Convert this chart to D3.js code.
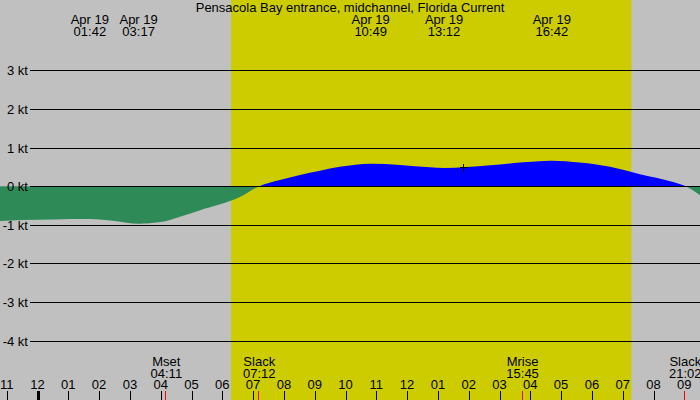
<!DOCTYPE html>
<html>
<head>
<meta charset="utf-8">
<script src="https://cdn.jsdelivr.net/npm/d3@7"></script>
<style>
  html, body { margin: 0; padding: 0; background: #c0c0c0; }
  svg { display: block; font-family: "Liberation Sans", Arial, sans-serif; }
</style>
</head>
<body>
<svg id="chart" width="700" height="400"></svg>
<script>
// ---- data ----
const title = "Pensacola Bay entrance, midchannel, Florida Current";
// current speed samples (hours since midnight Apr 19, knots)
const currentHours = [-1.22, -0.5, 0.5, 1.7, 2.5, 3.28, 4.0, 4.6, 5.28, 5.93, 6.57, 7.2,
  7.87, 8.52, 9.17, 9.82, 10.82, 11.77, 12.74, 13.2, 14.69, 15.66, 16.7, 17.61, 18.59,
  19.56, 20.54, 21.05, 21.52];
const currentKnots = [-0.90, -0.875, -0.86, -0.85, -0.90, -0.97, -0.93, -0.80, -0.62, -0.47, -0.28, 0,
  0.16, 0.29, 0.40, 0.50, 0.58, 0.55, 0.49, 0.47, 0.54, 0.61, 0.66, 0.61, 0.50,
  0.31, 0.13, 0, -0.24];
// extreme labels along top
const topDates = ["Apr 19", "Apr 19", "Apr 19", "Apr 19", "Apr 19"];
const topTimes = ["01:42", "03:17", "10:49", "13:12", "16:42"];
// events along bottom
const eventNames = ["Mset", "Slack", "Mrise", "Slack"];
const eventTimes = ["04:11", "07:12", "15:45", "21:02"];
// daylight
const sunrise = "06:17";
const sunset = "19:17";
// hour ticks
const tickHours = d3.range(-1, 22);
const tickLabels = ["11","12","01","02","03","04","05","06","07","08","09","10","11","12",
  "01","02","03","04","05","06","07","08","09"];
// y ticks
const yTicks = [3, 2, 1, 0, -1, -2, -3, -4];
// marker
const markerHour = 13.82, markerKnots = 0.49;

// ---- helpers ----
const toH = s => { const [h, m] = s.split(":").map(Number); return h + m / 60; };
const FS = 13;

const svg = d3.select("#chart");
const W = 700, H = 400;
const x = d3.scaleLinear().domain([0, 21]).range([37.5, 684.3]);
const y = d3.scaleLinear().domain([3, -4]).range([70.3, 340.7]);

// background
svg.append("rect").attr("width", W).attr("height", H).attr("fill", "#c0c0c0");
svg.append("rect")
  .attr("x", x(toH(sunrise))).attr("y", 0)
  .attr("width", x(toH(sunset)) - x(toH(sunrise))).attr("height", H)
  .attr("fill", "#cccc00");

// current area
const pts = currentHours.map((h, i) => [h, currentKnots[i]]);
const area = d3.area().x(d => x(d[0])).y0(y(0)).y1(d => y(d[1])).curve(d3.curveMonotoneX);
const defs = svg.append("defs");
defs.append("clipPath").attr("id", "above").append("rect")
  .attr("x", 0).attr("y", 0).attr("width", W).attr("height", y(0));
defs.append("clipPath").attr("id", "below").append("rect")
  .attr("x", 0).attr("y", y(0)).attr("width", W).attr("height", H - y(0));
svg.append("path").datum(pts).attr("d", area).attr("fill", "#0000ff").attr("clip-path", "url(#above)");
svg.append("path").datum(pts).attr("d", area).attr("fill", "#2e8b57").attr("clip-path", "url(#below)");

// grid lines and y labels
const yAxis = svg.append("g");
yTicks.forEach(v => {
  const yy = Math.round(y(v)) + 0.5;
  yAxis.append("line").attr("x1", 30).attr("x2", W).attr("y1", yy).attr("y2", yy)
    .attr("stroke", "#000").attr("stroke-width", 1).attr("shape-rendering", "crispEdges");
  yAxis.append("text").attr("x", 28).attr("y", yy + 4).attr("text-anchor", "end")
    .attr("font-size", FS).attr("fill", "#000").text(v + " kt");
});

// title
svg.append("text").attr("x", 350).attr("y", 12).attr("text-anchor", "middle")
  .attr("font-size", FS).attr("fill", "#000").text(title);

// top labels
topTimes.forEach((t, i) => {
  const xx = x(toH(t));
  svg.append("text").attr("x", xx).attr("y", 24).attr("text-anchor", "middle")
    .attr("font-size", FS).text(topDates[i]);
  svg.append("text").attr("x", xx).attr("y", 36).attr("text-anchor", "middle")
    .attr("font-size", FS).text(t);
});

// hour ticks
tickHours.forEach((h, i) => {
  const xx = Math.round(x(h));
  const midnight = (h === 0);
  svg.append("rect").attr("x", midnight ? xx - 1 : xx).attr("y", 391)
    .attr("width", midnight ? 3 : 1).attr("height", 9).attr("fill", "#000");
  svg.append("text").attr("x", x(h)).attr("y", 389).attr("text-anchor", "middle")
    .attr("font-size", FS).text(tickLabels[i]);
});

// events
eventTimes.forEach((t, i) => {
  const xx = x(toH(t));
  svg.append("rect").attr("x", Math.round(xx) - 1).attr("y", 391)
    .attr("width", 1).attr("height", 9).attr("fill", "#ff0000");
  svg.append("text").attr("x", xx).attr("y", 366).attr("text-anchor", "middle")
    .attr("font-size", FS).text(eventNames[i]);
  svg.append("text").attr("x", xx).attr("y", 378).attr("text-anchor", "middle")
    .attr("font-size", FS).text(t);
});

// marker
const mx = Math.round(x(markerHour)) + 0.5, my = Math.round(y(markerKnots)) + 0.5;
svg.append("path").attr("d", `M${mx - 4},${my}H${mx + 4}M${mx},${my - 4}V${my + 4}`)
  .attr("stroke", "#000").attr("stroke-width", 1).attr("shape-rendering", "crispEdges");
</script>
</body>
</html>
